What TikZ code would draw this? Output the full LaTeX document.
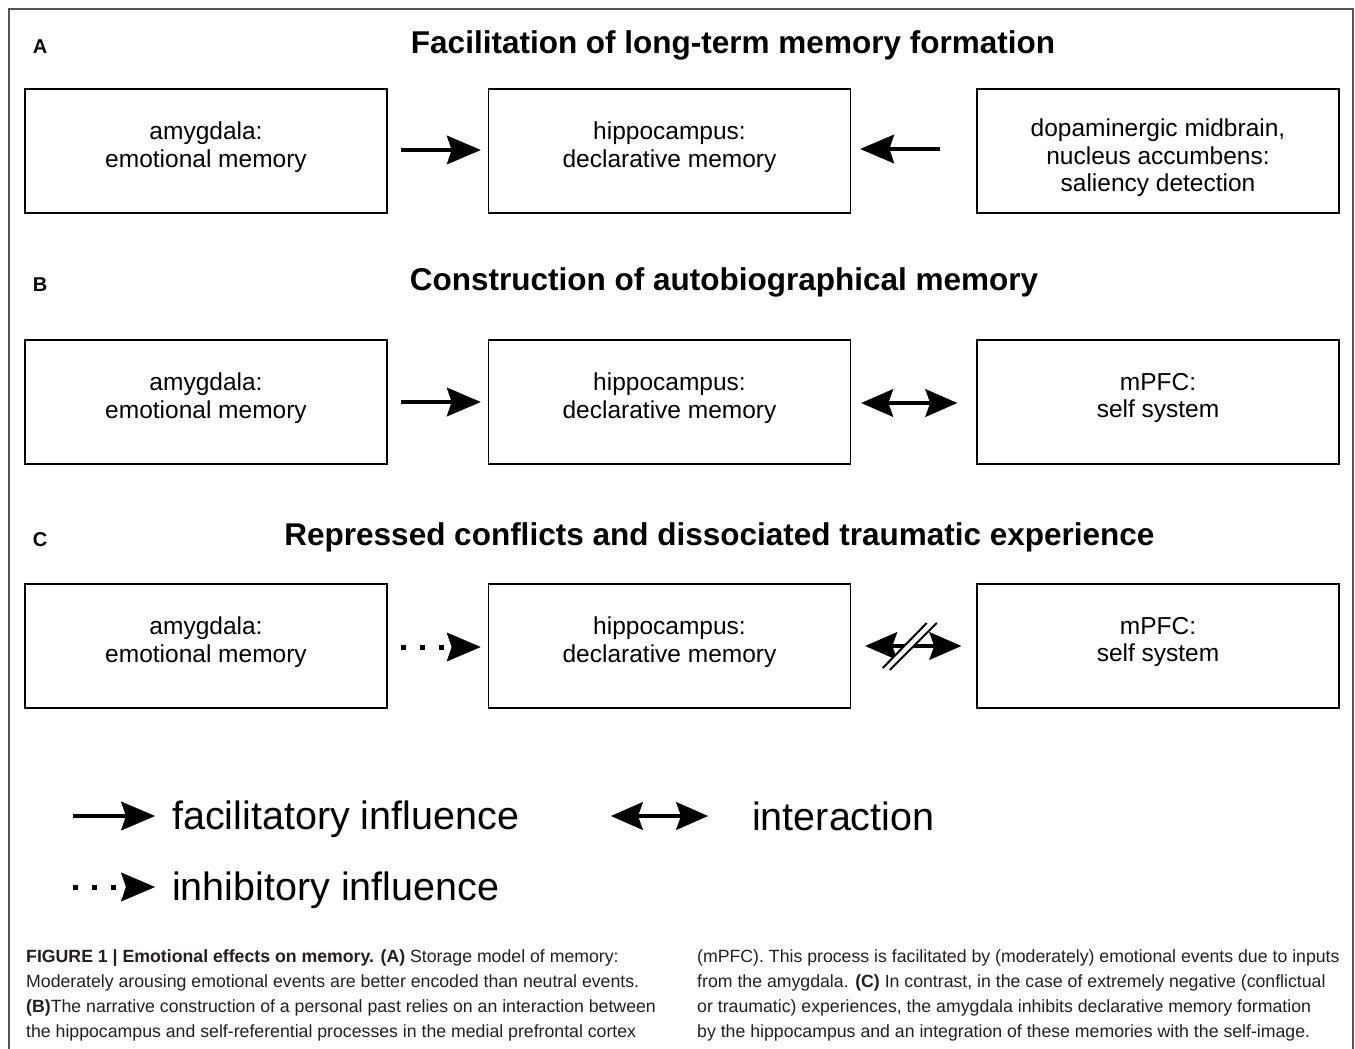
\documentclass[tikz,border=0pt]{standalone}
\usepackage{fontspec}
\setmainfont{Liberation Sans}
\usetikzlibrary{arrows.meta,calc}
\definecolor{captext}{HTML}{231F20}
\definecolor{framecol}{HTML}{555555}
\begin{document}
\begin{tikzpicture}[x=1pt,y=-1pt,
  box/.style={draw=black, line width=1.6pt, minimum width=362pt, minimum height=124pt, inner sep=0pt},
  boxtext/.style={align=center, inner sep=0pt, font=\fontsize{24.5}{27.5}\selectfont},
  ptitle/.style={font=\fontsize{31.5}{36}\selectfont\bfseries, inner sep=0pt},
  plabel/.style={font=\fontsize{20}{24}\selectfont\bfseries, inner sep=0pt},
  legtext/.style={font=\fontsize{39.5}{44}\selectfont, anchor=west, inner sep=0pt},
  captxt/.style={font=\fontsize{17.7}{25}\selectfont, text=captext, anchor=base west, inner sep=0pt},
  fac/.style={line width=4.6pt, -{Stealth[length=34pt,width=29pt,inset=5pt,line width=0.4pt]}},
  inh/.style={line width=5pt, dash pattern=on 5pt off 14pt, -{Stealth[length=34pt,width=29pt,inset=5pt,line width=0.4pt]}},
  inter/.style={line width=4.2pt, {Stealth[length=32pt,width=28pt,inset=5pt,line width=0.4pt]}-{Stealth[length=32pt,width=28pt,inset=5pt,line width=0.4pt]}}
]
\useasboundingbox (0,0) rectangle (1355,1049);
% frame
\draw[framecol, line width=1.4pt] (9,1052) -- (9,9) -- (1353,9) -- (1353,1052);

% panel labels and titles
\node[plabel] (la) at (40,47) {A};
\node[plabel] (lb) at (40,285) {B};
\node[plabel] (lc) at (40,540) {C};
\node[ptitle] (ta) at (733,45) {Facilitation of long-term memory formation};
\node[ptitle] (tb) at (724,282) {Construction of autobiographical memory};
\node[ptitle] (tc) at (719.5,537) {Repressed conflicts and dissociated traumatic experience};

% row A
\node[box] (a1) at (206,151) {};
\node[box] (h1) at (669.5,151) {};
\node[box] (d1) at (1158,151) {};
\node[boxtext] (a1t) at ($(a1)+(0,-4)$) {amygdala:\\emotional memory};
\node[boxtext] (h1t) at ($(h1)+(0,-4)$) {hippocampus:\\declarative memory};
\node[boxtext] (d1t) at ($(d1)+(0,7)$) {dopaminergic midbrain,\\nucleus accumbens:\\saliency detection};
% row B
\node[box] (a2) at (206,402) {};
\node[box] (h2) at (669.5,402) {};
\node[box] (m2) at (1158,402) {};
\node[boxtext] (a2t) at ($(a2)+(0,-4)$) {amygdala:\\emotional memory};
\node[boxtext] (h2t) at ($(h2)+(0,-4)$) {hippocampus:\\declarative memory};
\node[boxtext] (m2t) at ($(m2)+(0,-4)$) {mPFC:\\self system};
% row C
\node[box] (a3) at (206,646) {};
\node[box] (h3) at (669.5,646) {};
\node[box] (m3) at (1158,646) {};
\node[boxtext] (a3t) at ($(a3)+(0,-4)$) {amygdala:\\emotional memory};
\node[boxtext] (h3t) at ($(h3)+(0,-4)$) {hippocampus:\\declarative memory};
\node[boxtext] (m3t) at ($(m3)+(0,-4)$) {mPFC:\\self system};

% connectors
\draw[fac, shorten <=13pt, shorten >=7pt] ([yshift=1pt]a1.east) -- ([yshift=1pt]h1.west);
\draw[fac, shorten <=36pt, shorten >=9pt] ([yshift=2pt]d1.west) -- ([yshift=2pt]h1.east);
\draw[fac, shorten <=13pt, shorten >=7pt] (a2.east) -- (h2.west);
\draw[inter, shorten <=10pt, shorten >=19pt] ([yshift=-1pt]h2.east) -- ([yshift=-1pt]m2.west);
\draw[inh, shorten <=13pt, shorten >=7pt] ([yshift=-1pt]a3.east) -- ([yshift=-1pt]h3.west);
\draw[inter, shorten <=14pt, shorten >=15pt] (h3.east) -- (m3.west);
\coordinate (xc) at ($(h3.east)!0.5!(m3.west)$);
\draw[white, line width=5pt] ($(xc)+(-27.5,23)$) -- ($(xc)+(18,-23)$);
\draw[black, line width=2pt] ($(xc)+(-31,22)$) -- ($(xc)+(13,-23)$);
\draw[black, line width=2pt] ($(xc)+(-24,24)$) -- ($(xc)+(23,-23)$);

% legend
\coordinate (lf) at (73,816);
\node[legtext] (lft) at (172,819) {facilitatory influence};
\draw[fac, shorten >=17pt] (lf) -- (lft.west |- lf);
\coordinate (li1) at (611,816);
\coordinate (li2) at (708,816);
\node[legtext] (lit) at (752,816) {interaction};
\draw[inter] (li1) -- (li2);
\coordinate (lh) at (73,887);
\node[legtext] (lht) at (172,890) {inhibitory influence};
\draw[inh, shorten >=17pt] (lh) -- (lht.west |- lh);

% caption
\node[captxt] (c1) at (26,962) {\textbf{FIGURE 1 | Emotional effects on memory. (A)} Storage model of memory:};
\node[captxt] (c2) at (26,987) {Moderately arousing emotional events are better encoded than neutral events.};
\node[captxt] (c3) at (26,1012) {\textbf{(B)}The narrative construction of a personal past relies on an interaction between};
\node[captxt] (c4) at (26,1037) {the hippocampus and self-referential processes in the medial prefrontal cortex};
\node[captxt] (c5) at (697,962) {(mPFC). This process is facilitated by (moderately) emotional events due to inputs};
\node[captxt] (c6) at (697,987) {from the amygdala. \textbf{(C)} In contrast, in the case of extremely negative (conflictual};
\node[captxt] (c7) at (697,1012) {or traumatic) experiences, the amygdala inhibits declarative memory formation};
\node[captxt] (c8) at (697,1037) {by the hippocampus and an integration of these memories with the self-image.};
\end{tikzpicture}
\end{document}
